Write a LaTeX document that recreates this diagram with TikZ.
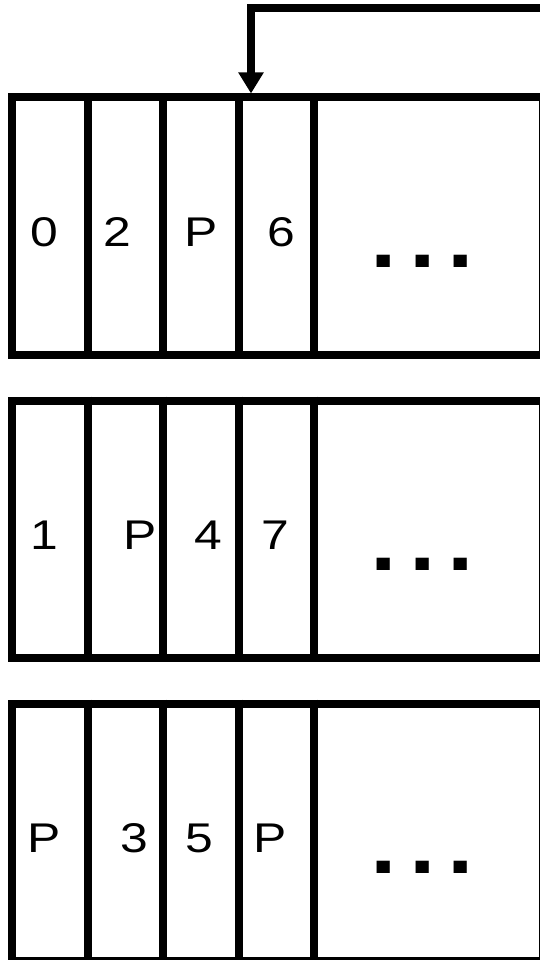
\documentclass[tikz,border=0pt]{standalone}
\usepackage{fontspec}
\setmainfont{Liberation Sans}
\usetikzlibrary{positioning, calc, arrows.meta}

\begin{document}
\begin{tikzpicture}[x=1pt, y=-1pt,
    rowbox/.style={draw, line width=8pt, minimum width=531pt,
      minimum height=257.5pt, inner sep=0pt},
    cellsep/.style={line width=8pt},
    cellnum/.style={anchor=base, inner sep=0pt, xscale=1.2,
      font=\fontsize{41.5}{50}\selectfont},
    celldots/.style={anchor=base, inner sep=0pt, xscale=1.2,
      font=\fontsize{115}{120}\selectfont},
    ptr/.style={line width=8pt, -{Triangle[width=24pt, length=21pt]}}]
  \useasboundingbox (0,0) rectangle (539,960);
  % three rows of slots, the right end runs off the page
  \node[rowbox] (rowA) at (277.5,226.25) {};
  \node[rowbox] (rowB) at (277.5,529.25) {};
  \node[rowbox] (rowC) at (277.5,832.25) {};
  \foreach \r in {rowA,rowB,rowC}
    \foreach \x in {87.5,163,238.5,314} {
      \coordinate (sepx) at (\x,0);
      \draw[cellsep] (\r.north -| sepx) -- (\r.south -| sepx);
    }
  % slot contents
  \foreach \x/\y/\t [count=\i] in {44.5/246/0, 117/246/2, 201/246/P, 281/246/6,
      44.5/549/1, 140.5/549/P, 208.5/549/4, 275/549/7,
      44.5/852/P, 134/852/3, 199/852/5, 270/852/P}
    \node[cellnum] (slot\i) at (\x,\y) {\t};
  \node[celldots] (dotsA) at (422.5,267.5) {...};
  \node[celldots] (dotsB) at (422.5,570.5) {...};
  \node[celldots] (dotsC) at (422.5,873.5) {...};
  % pointer into the first row
  \coordinate (ptrin) at (545,7.7);
  \coordinate (ptrx) at (251,0);
  \draw[ptr] (ptrin) -| (rowA.north -| ptrx);
\end{tikzpicture}
\end{document}
